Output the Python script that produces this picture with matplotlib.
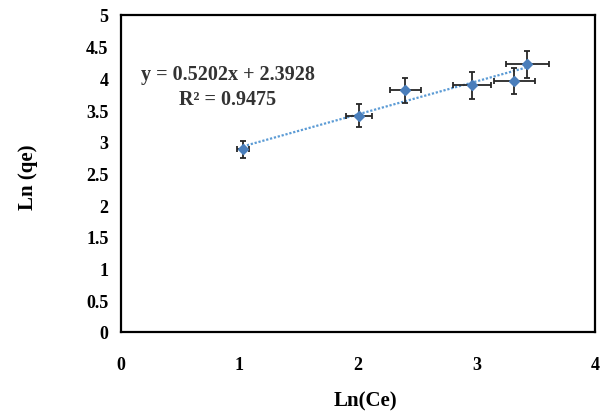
import numpy as np
import matplotlib
matplotlib.use("Agg")
from matplotlib import pyplot as plt

# data
ln_ce = [1.03, 2.01, 2.40, 2.96, 3.32, 3.43]
ln_qe = [2.88, 3.41, 3.81, 3.89, 3.96, 4.22]
x_err = [0.05, 0.11, 0.13, 0.16, 0.17, 0.18]
y_err = [0.14, 0.18, 0.20, 0.21, 0.20, 0.22]

slope = 0.5202
intercept = 2.3928
r2 = 0.9475

x_ticks = [0, 1, 2, 3, 4]
y_ticks = [0, 0.5, 1, 1.5, 2, 2.5, 3, 3.5, 4, 4.5, 5]

plt.rcParams['font.family'] = ['Liberation Serif', 'DejaVu Serif']
plt.rcParams['font.weight'] = 'bold'

fig = plt.figure(figsize=(6, 4.14), dpi=100)
ax = fig.add_axes([121 / 600, 1 - 333 / 414, (595 - 121) / 600, (333 - 16) / 414])

# trendline
xs = np.array([min(ln_ce), max(ln_ce)])
ax.plot(xs, slope * xs + intercept, linestyle=(0, (1, 0.8)), color='#5b9bd5', lw=1.6, zorder=2)

ax.errorbar(ln_ce, ln_qe, xerr=x_err, yerr=y_err, fmt='D', color='#4a7ebb',
            ms=5.5, ecolor='#262626', elinewidth=1.3, capsize=2.5, capthick=1.3, zorder=3)

ax.text(0.225, 0.815, 'y = 0.5202x + 2.3928', transform=ax.transAxes, ha='center', va='center',
        fontsize=14.5, fontweight='bold', color='#333333')
ax.text(0.225, 0.735, 'R² = %.4f' % r2, transform=ax.transAxes, ha='center', va='center',
        fontsize=14.5, fontweight='bold', color='#333333')

ax.set_xlim(0, 4)
ax.set_ylim(0, 5)
ax.set_xticks(x_ticks)
ax.set_yticks(y_ticks)
ax.set_xticklabels([str(v) for v in x_ticks])
ax.set_yticklabels(['0', '0.5', '1', '1.5', '2', '2.5', '3', '3.5', '4', '4.5', '5'])
ax.tick_params(length=0, labelsize=13, pad=9)
ax.tick_params(axis='x', pad=17)
for s in ax.spines.values():
    s.set_linewidth(1.6)
    s.set_color('black')

fig.text(365 / 600, 1 - 401 / 414, 'Ln(Ce)', ha='center', va='center', fontsize=15, fontweight='bold')
fig.text(28 / 600, 1 - 177 / 414, 'Ln (qe)', ha='center', va='center', rotation=90,
         fontsize=15, fontweight='bold')

fig.savefig('out.png', dpi=100)
